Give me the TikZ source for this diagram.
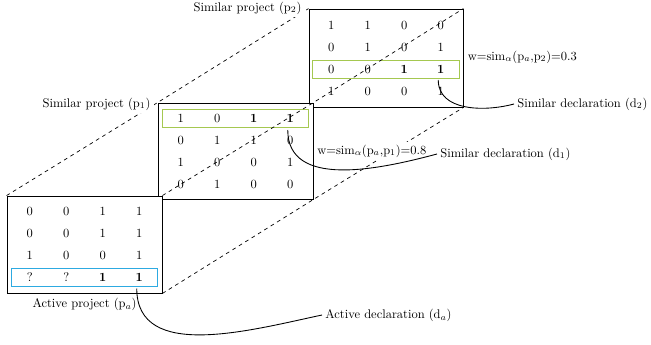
\documentclass[tikz,border=0pt]{standalone}
\usetikzlibrary{fit,matrix,calc}
\definecolor{hlblue}{RGB}{45,170,225}
\definecolor{hlgreen}{RGB}{165,200,80}
\begin{document}
\begin{tikzpicture}[x=0.8pt,y=-0.8pt,
  projbox/.style={draw, line width=0.7pt, fill=white, inner sep=0pt},
  cellmat/.style={matrix of nodes, inner sep=0pt,
    nodes={minimum width=29.2pt, minimum height=17.6pt, inner sep=0pt, anchor=center}},
  hlrow/.style={draw=#1, line width=0.8pt, inner xsep=0pt, inner ysep=7.2pt},
  dashline/.style={dash pattern=on 3pt off 3pt, line width=0.55pt},
  lbl/.style={fill=white, inner sep=2.5pt},
  curve/.style={line width=0.7pt}
]
\useasboundingbox (0,0) rectangle (651,345);

% similar project p2
\coordinate (p2tl) at (309,9);
\coordinate (p2br) at (463,107);
\node[projbox, fit=(p2tl)(p2br)] (p2box) {};
\matrix[cellmat] (p2m) at (p2box.center) {
1 & 1 & 0 & 0\\
0 & 1 & 0 & 1\\
0 & 0 & \textbf{1} & \textbf{1}\\
1 & 0 & 0 & 1\\
};
\node[hlrow=hlgreen, fit=(p2m-3-1.west)(p2m-3-4.east)] (p2hl) {};

% similar project p1
\coordinate (p1tl) at (158,103);
\coordinate (p1br) at (313,199);
\node[projbox, fit=(p1tl)(p1br)] (p1box) {};
\matrix[cellmat] (p1m) at (p1box.center) {
1 & 0 & \textbf{1} & \textbf{1}\\
0 & 1 & 1 & 0\\
1 & 0 & 0 & 1\\
0 & 1 & 0 & 0\\
};
\node[hlrow=hlgreen, fit=(p1m-1-1.west)(p1m-1-4.east)] (p1hl) {};

% active project
\coordinate (atl) at (7,196);
\coordinate (abr) at (162,293);
\node[projbox, fit=(atl)(abr)] (abox) {};
\matrix[cellmat] (am) at (abox.center) {
0 & 0 & 1 & 1\\
0 & 0 & 1 & 1\\
1 & 0 & 0 & 1\\
? & ? & \textbf{1} & \textbf{1}\\
};
\node[hlrow=hlblue, fit=(am-4-1.west)(am-4-4.east)] (ahl) {};

% perspective dashed lines
\draw[dashline] (abox.north west) -- (p1box.north west) -- (p2box.north west);
\draw[dashline] (abox.north east) -- (p1box.north east) -- (p2box.north east);
\draw[dashline] (abox.south east) -- (p1box.south east) -- (p2box.south east);

% labels
\node[lbl] (p2lbl) at (247.5,8) {Similar project (p$_2$)};
\node[lbl] (p1lbl) at (96.5,104) {Similar project (p$_1$)};
\node[lbl, inner xsep=4.5pt] (albl) at (84.5,304) {Active project (p$_a$)};
\node[lbl, inner sep=2pt, anchor=west] (w2) at (465,57) {w=sim$_\alpha$(p$_a$,p$_2$)=0.3};
\node[lbl, inner sep=2pt, anchor=west] (w1) at (314.5,151) {w=sim$_\alpha$(p$_a$,p$_1$)=0.8};
\node[lbl, anchor=west] (d2) at (514,104) {Similar declaration (d$_2$)};
\node[lbl, anchor=west] (d1) at (437,154) {Similar declaration (d$_1$)};
\node[lbl, anchor=west] (da) at (322,315) {Active declaration (d$_a$)};

% declaration curves
\draw[curve] ($(p2m-3-4.center)+(-2.5,11)$) to[out=-90,in=195] (d2.west);
\draw[curve] ($(p1m-1-4.center)+(-2.5,12)$) to[out=-90,in=195] (d1.west);
\draw[curve] ($(am-4-4.center)+(-2.5,11)$) to[out=-90,in=192] (da.west);
\end{tikzpicture}
\end{document}
